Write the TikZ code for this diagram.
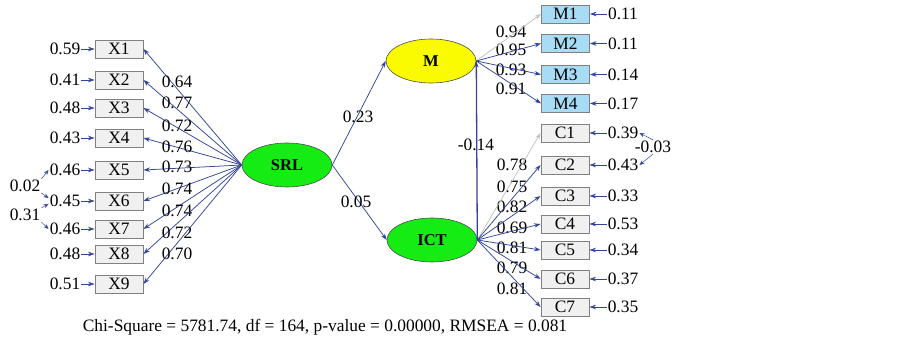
\documentclass[tikz,border=0pt]{standalone}
\usepackage{fontspec}
\setmainfont{Liberation Serif}
\usetikzlibrary{arrows.meta,shapes.geometric}
\definecolor{ln}{HTML}{33449A}
\definecolor{gl}{HTML}{C2C2C2}
\definecolor{boxf}{HTML}{F0F0F0}
\definecolor{boxb}{HTML}{808080}
\definecolor{mblue}{HTML}{A8DCF5}
\definecolor{lgreen}{HTML}{14EC14}
\definecolor{lyellow}{HTML}{FAFA00}
\begin{document}
\begin{tikzpicture}[x=1pt,y=-1pt,font=\fontsize{17.4}{19}\selectfont,
  obs/.style={draw=boxb,fill=boxf,line width=0.9pt,minimum width=48pt,minimum height=18pt,inner sep=0pt},
  mobs/.style={obs,fill=mblue},
  lat/.style={ellipse,draw=black!70,line width=0.6pt,minimum width=90pt,minimum height=44pt,inner sep=0pt,font=\fontsize{16.5}{18}\selectfont\bfseries},
  lab/.style={inner sep=1pt},
  ar/.style={draw=ln,line width=0.75pt,-{Stealth[length=6.5pt,width=4.5pt]}},
  gar/.style={draw=gl,line width=0.75pt,-{Stealth[length=6.5pt,width=4.5pt]}},
  car/.style={draw=ln,line width=0.5pt,-{Stealth[length=5pt,width=4pt]}}
]
\useasboundingbox (0,0) rectangle (903,344);

% latent variables
\node[lat,fill=lgreen] (SRL) at (287,165) {SRL};
\node[lat,fill=lyellow] (M) at (431,61) {M};
\node[lat,fill=lgreen] (ICT) at (432,240) {ICT};

% X indicators
\foreach \i/\y/\e/\l/\ly in {1/49/0.59/0.64/82, 2/80/0.41/0.77/103, 3/108/0.48/0.72/126,
  4/138/0.43/0.76/147, 5/170/0.46/0.73/167, 6/201/0.45/0.74/189, 7/229/0.46/0.74/211,
  8/254/0.48/0.72/233, 9/284/0.51/0.70/254}{
  \node[obs] (X\i) at (119,\y) {X\i};
  \node[lab] (ex\i) at (65,\y) {\e};
  \draw[ar] (ex\i) -- (X\i);
  \draw[ar] (SRL.west) -- (X\i.east);
  \node[lab] (lx\i) at (177,\ly) {\l};
}

% left covariances
\node[lab] (c02) at (25,186) {0.02};
\node[lab] (c31) at (25,215) {0.31};
\draw[car] (c02.north east) -- (ex5.west);
\draw[car] (c02.south east) -- (ex6.170);
\draw[car] (c31.north east) -- (ex6.190);
\draw[car] (c31.south east) -- (ex7.west);

% M indicators
\foreach \i/\y/\e/\l/\ly in {1/14/0.11/0.94/32, 2/43.5/0.11/0.95/50, 3/74.5/0.14/0.93/70, 4/103.5/0.17/0.91/89}{
  \node[mobs] (M\i) at (565.5,\y) {M\i};
  \node[lab] (em\i) at (623,\y) {\e};
  \draw[ar] (em\i) -- (M\i);
  \node[lab] (lm\i) at (511,\ly) {\l};
}
\draw[gar] (M.east) -- (M1.west);
\foreach \i in {2,3,4}{\draw[ar] (M.east) -- (M\i.west);}

% C indicators
\foreach \i/\y/\e/\l/\ly in {1/133/0.39/0.78/165, 2/165/0.43/0.75/187, 3/196/0.33/0.82/207,
  4/224/0.53/0.69/228, 5/250/0.34/0.81/248, 6/279/0.37/0.79/268, 7/307/0.35/0.81/289}{
  \node[obs] (C\i) at (565,\y) {C\i};
  \node[lab] (ec\i) at (623,\y) {\e};
  \draw[ar] (ec\i) -- (C\i);
  \node[lab] (lc\i) at (512,\ly) {\l};
}
\draw[gar] (ICT.east) -- (C1.west);
\foreach \i in {2,...,7}{\draw[ar] (ICT.east) -- (C\i.west);}

% right covariance
\node[lab] (c03) at (653,147) {-0.03};
\draw[car] (c03.north) -- (ec1.east);
\draw[car] (c03.south) -- (ec2.east);

% structural paths
\draw[ar] (SRL.east) -- (M.west);
\draw[ar] (SRL.east) -- (ICT.west);
\draw[ar,line width=1.3pt] (ICT.east) -- (M.east);
\node[lab] (p1) at (358,117) {0.23};
\node[lab] (p2) at (356,202) {0.05};
\node[lab] (p3) at (476,145) {-0.14};

% fit statistics
\node[lab] (fit) at (325,327) {Chi-Square = 5781.74, df = 164, p-value = 0.00000, RMSEA = 0.081};
\end{tikzpicture}
\end{document}
